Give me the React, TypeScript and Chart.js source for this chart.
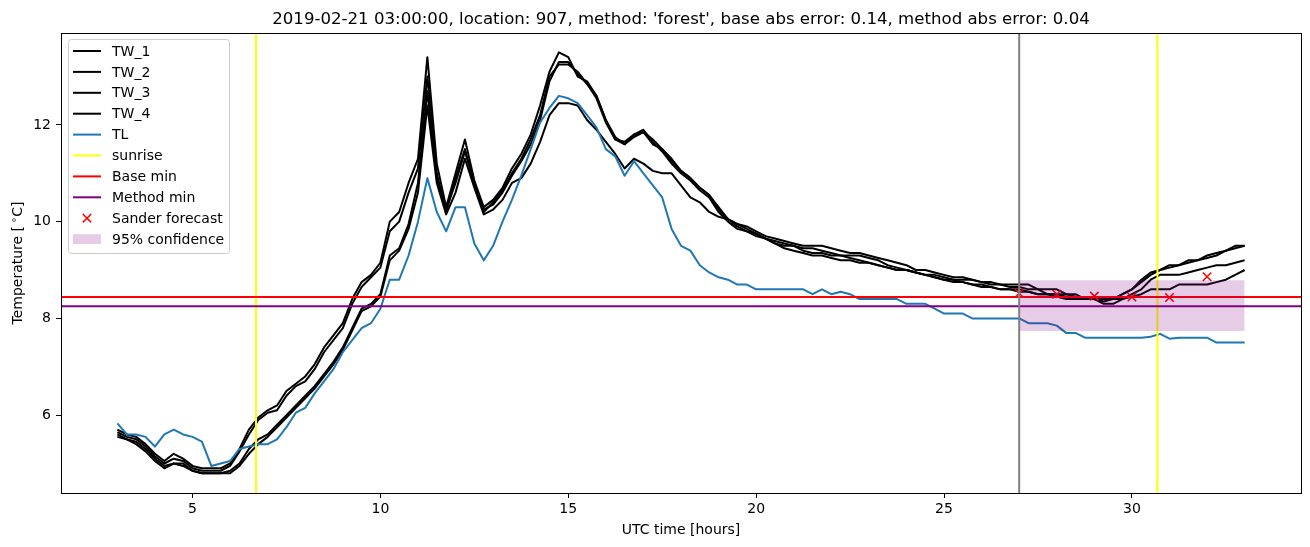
import React, { useEffect, useRef } from "react";
import { Chart, registerables } from "chart.js";

Chart.register(...registerables);

// ---- data (0.25 h sampling, 3:00 .. 33:00) ----
const hours = Array.from({ length: 121 }, (_, i) => 3 + i * 0.25);

const TW1 = [
  5.7, 5.6, 5.55, 5.4, 5.2, 5.05, 5.2, 5.1,
  4.95, 4.9, 4.9, 4.9, 5.0, 5.3, 5.7, 5.95,
  6.1, 6.2, 6.5, 6.65, 6.8, 7.05, 7.4, 7.65,
  7.9, 8.4, 8.75, 8.9, 9.15, 10.0, 10.2, 10.8,
  11.3, 13.4, 11.2, 10.3, 11.0, 11.7, 10.85, 10.3,
  10.45, 10.7, 11.1, 11.4, 11.8, 12.4, 13.1, 13.5,
  13.4, 13.0, 12.9, 12.6, 12.1, 11.7, 11.6, 11.8,
  11.85, 11.6, 11.5, 11.25, 11.05, 10.9, 10.7, 10.55,
  10.3, 10.05, 9.95, 9.9, 9.8, 9.7, 9.65, 9.6,
  9.55, 9.5, 9.5, 9.5, 9.45, 9.4, 9.35, 9.35,
  9.3, 9.25, 9.2, 9.15, 9.1, 9.0, 9.0, 8.95,
  8.9, 8.85, 8.85, 8.8, 8.75, 8.75, 8.7, 8.7,
  8.7, 8.7, 8.6, 8.6, 8.6, 8.5, 8.5, 8.4,
  8.4, 8.4, 8.4, 8.5, 8.6, 8.8, 8.95, 9.0,
  9.1, 9.1, 9.2, 9.2, 9.3, 9.35, 9.4, 9.5,
  9.5,
];

const TW2 = [
  5.65, 5.55, 5.5, 5.35, 5.15, 5.0, 5.1, 5.05,
  4.9, 4.85, 4.85, 4.85, 4.95, 5.25, 5.6, 5.9,
  6.05, 6.1, 6.4, 6.6, 6.7, 6.95, 7.3, 7.55,
  7.8, 8.3, 8.65, 8.85, 9.05, 9.8, 10.0, 10.6,
  11.1, 13.0, 11.0, 10.2, 10.9, 11.5, 10.75, 10.2,
  10.4, 10.65, 11.0, 11.3, 11.7, 12.2, 13.0, 13.25,
  13.25, 13.1, 12.85, 12.55, 12.05, 11.7, 11.65, 11.8,
  11.9, 11.65, 11.45, 11.2, 11.0, 10.85, 10.65, 10.5,
  10.2, 10.0, 9.85, 9.8, 9.75, 9.65, 9.55, 9.5,
  9.5, 9.45, 9.45, 9.4, 9.35, 9.3, 9.3, 9.3,
  9.25, 9.2, 9.1, 9.05, 9.0, 8.95, 8.9, 8.9,
  8.85, 8.8, 8.8, 8.8, 8.75, 8.7, 8.7, 8.65,
  8.65, 8.6, 8.6, 8.5, 8.5, 8.5, 8.45, 8.4,
  8.4, 8.35, 8.4, 8.5, 8.6, 8.75, 8.9, 9.0,
  9.05, 9.1, 9.15, 9.2, 9.25, 9.3, 9.4, 9.45,
  9.5,
];

const TW3 = [
  5.6, 5.5, 5.45, 5.3, 5.1, 4.95, 5.0, 5.0,
  4.85, 4.8, 4.8, 4.8, 4.85, 5.0, 5.3, 5.5,
  5.6, 5.8, 6.0, 6.2, 6.4, 6.6, 6.85, 7.1,
  7.4, 7.8, 8.2, 8.3, 8.5, 9.3, 9.45, 9.95,
  10.8, 12.7, 10.9, 10.25, 10.8, 11.45, 10.8, 10.25,
  10.35, 10.6, 10.95, 11.25, 11.6, 12.1, 12.9, 13.3,
  13.3, 13.05, 12.85, 12.6, 12.1, 11.75, 11.6, 11.75,
  11.85, 11.7, 11.5, 11.3, 11.05, 10.9, 10.7, 10.55,
  10.25, 10.05, 9.95, 9.85, 9.75, 9.65, 9.6, 9.55,
  9.5, 9.4, 9.35, 9.35, 9.3, 9.3, 9.25, 9.2,
  9.15, 9.1, 9.05, 9.0, 9.0, 8.95, 8.9, 8.85,
  8.8, 8.8, 8.75, 8.7, 8.7, 8.65, 8.6, 8.6,
  8.6, 8.55, 8.5, 8.5, 8.5, 8.45, 8.4, 8.4,
  8.4, 8.3, 8.3, 8.4, 8.5, 8.6, 8.8, 8.9,
  8.9, 8.9, 8.95, 9.0, 9.05, 9.1, 9.1, 9.15,
  9.2,
];

const TW4 = [
  5.55, 5.5, 5.4, 5.25, 5.05, 4.9, 5.0, 4.95,
  4.85, 4.8, 4.8, 4.8, 4.8, 4.95, 5.2, 5.4,
  5.55, 5.75, 5.95, 6.15, 6.35, 6.55, 6.8, 7.05,
  7.35, 7.75, 8.15, 8.25, 8.45, 9.2, 9.4, 9.85,
  10.6, 12.4, 10.8, 10.15, 10.6, 11.3, 10.7, 10.15,
  10.25, 10.45, 10.8, 10.9, 11.2, 11.65, 12.2, 12.45,
  12.45, 12.4, 12.1, 11.9, 11.65, 11.4, 11.1, 11.3,
  11.2, 11.05, 11.0, 11.0, 10.75, 10.5, 10.4, 10.2,
  10.1, 10.05, 9.9, 9.8, 9.7, 9.65, 9.55, 9.45,
  9.4, 9.35, 9.3, 9.3, 9.25, 9.2, 9.2, 9.15,
  9.15, 9.1, 9.05, 9.0, 9.0, 8.95, 8.9, 8.85,
  8.8, 8.75, 8.75, 8.7, 8.65, 8.65, 8.6, 8.6,
  8.55, 8.55, 8.5, 8.5, 8.45, 8.4, 8.4, 8.4,
  8.4, 8.4, 8.4, 8.4, 8.45, 8.5, 8.6, 8.6,
  8.6, 8.7, 8.7, 8.7, 8.7, 8.75, 8.8, 8.9,
  9.0,
];

const TL = [
  5.83, 5.6, 5.6, 5.55, 5.35, 5.6, 5.7, 5.6,
  5.55, 5.45, 4.95, 5.0, 5.05, 5.3, 5.35, 5.4,
  5.4, 5.5, 5.75, 6.05, 6.15, 6.45, 6.7, 6.95,
  7.3, 7.55, 7.8, 7.9, 8.2, 8.8, 8.8, 9.3,
  10.0, 10.9, 10.2, 9.8, 10.3, 10.3, 9.55, 9.2,
  9.5, 10.0, 10.45, 10.95, 11.5, 12.05, 12.35, 12.6,
  12.55, 12.45, 12.2, 11.95, 11.5, 11.35, 10.95, 11.25,
  11.0, 10.75, 10.5, 9.85, 9.5, 9.4, 9.1, 8.95,
  8.85, 8.8, 8.7, 8.7, 8.6, 8.6, 8.6, 8.6,
  8.6, 8.6, 8.5, 8.6, 8.5, 8.55, 8.5, 8.4,
  8.4, 8.4, 8.4, 8.4, 8.3, 8.3, 8.3, 8.2,
  8.1, 8.1, 8.1, 8.0, 8.0, 8.0, 8.0, 8.0,
  8.0, 7.9, 7.9, 7.9, 7.85, 7.7, 7.7, 7.6,
  7.6, 7.6, 7.6, 7.6, 7.6, 7.6, 7.62, 7.68,
  7.58, 7.6, 7.6, 7.6, 7.6, 7.5, 7.5, 7.5,
  7.5,
];

const sanderHours = [27, 28, 29, 30, 31, 32];
const sanderValues = [8.52, 8.5, 8.46, 8.44, 8.43, 8.86];

const sunriseTimes = [6.69, 30.68];
const forecastTime = 27;
const baseMin = 8.44;
const methodMin = 8.25;
const confHours = [27, 33];
const confLow = 7.74;
const confHigh = 8.79;

const xRange = [1.5, 34.5];
const yRange = [4.39, 13.9];
const xTicks = [5, 10, 15, 20, 25, 30];
const yTicks = [6, 8, 10, 12];

const titleText =
  "2019-02-21 03:00:00, location: 907, method: 'forest', base abs error: 0.14, method abs error: 0.04";

const FONT = '"DejaVu Sans", sans-serif';
const BLUE = "#1f77b4";
const BAND = "rgba(128,0,128,0.2)";

type LegendItem = { label: string; kind: "line" | "x" | "patch"; color: string };
const legendItems: LegendItem[] = [
  { label: "TW_1", kind: "line", color: "#000000" },
  { label: "TW_2", kind: "line", color: "#000000" },
  { label: "TW_3", kind: "line", color: "#000000" },
  { label: "TW_4", kind: "line", color: "#000000" },
  { label: "TL", kind: "line", color: BLUE },
  { label: "sunrise", kind: "line", color: "#ffff00" },
  { label: "Base min", kind: "line", color: "#ff0000" },
  { label: "Method min", kind: "line", color: "#800080" },
  { label: "Sander forecast", kind: "x", color: "#ff0000" },
  { label: "95% confidence", kind: "patch", color: BAND },
];

const series = (vals: number[]) => vals.map((v, i) => ({ x: hours[i], y: v }));

const overlayPlugin = {
  id: "overlay",
  afterDraw(chart: any) {
    const { ctx, chartArea } = chart;
    const { left, right, top, bottom } = chartArea;
    ctx.save();
    // frame
    ctx.strokeStyle = "#000";
    ctx.lineWidth = 1;
    ctx.strokeRect(Math.round(left) + 0.5, Math.round(top) + 0.5, Math.round(right - left), Math.round(bottom - top));

    // title
    ctx.fillStyle = "#000";
    ctx.font = `16.6px ${FONT}`;
    ctx.textAlign = "center";
    ctx.textBaseline = "alphabetic";
    ctx.fillText(titleText, (left + right) / 2, 24);

    // x label
    ctx.font = `14px ${FONT}`;
    ctx.fillText("UTC time [hours]", (left + right) / 2, 534);

    // y label with superscript degree
    ctx.save();
    ctx.translate(22, (top + bottom) / 2);
    ctx.rotate(-Math.PI / 2);
    const p1 = "Temperature [";
    const p2 = "\u2218";
    const p3 = "C]";
    ctx.font = `14px ${FONT}`;
    const w1 = ctx.measureText(p1).width;
    const w3 = ctx.measureText(p3).width;
    ctx.font = `10px ${FONT}`;
    const w2 = ctx.measureText(p2).width;
    const gap = 3;
    const total = w1 + gap + w2 + w3;
    let cx = -total / 2;
    ctx.textAlign = "left";
    ctx.font = `14px ${FONT}`;
    ctx.fillText(p1, cx, 0);
    cx += w1 + gap;
    ctx.font = `10px ${FONT}`;
    ctx.fillText(p2, cx, -5);
    cx += w2;
    ctx.font = `14px ${FONT}`;
    ctx.fillText(p3, cx, 0);
    ctx.restore();

    // legend
    const bx = 68.5, by = 39.5, bw = 161, bh = 214, r = 3;
    ctx.beginPath();
    ctx.moveTo(bx + r, by);
    ctx.lineTo(bx + bw - r, by);
    ctx.quadraticCurveTo(bx + bw, by, bx + bw, by + r);
    ctx.lineTo(bx + bw, by + bh - r);
    ctx.quadraticCurveTo(bx + bw, by + bh, bx + bw - r, by + bh);
    ctx.lineTo(bx + r, by + bh);
    ctx.quadraticCurveTo(bx, by + bh, bx, by + bh - r);
    ctx.lineTo(bx, by + r);
    ctx.quadraticCurveTo(bx, by, bx + r, by);
    ctx.closePath();
    ctx.fillStyle = "rgba(255,255,255,0.8)";
    ctx.fill();
    ctx.strokeStyle = "#cccccc";
    ctx.lineWidth = 1;
    ctx.stroke();

    ctx.font = `14px ${FONT}`;
    ctx.textAlign = "left";
    ctx.textBaseline = "middle";
    legendItems.forEach((it, i) => {
      const y = 51 + i * 20.9;
      if (it.kind === "line") {
        ctx.strokeStyle = it.color;
        ctx.lineWidth = 2;
        ctx.beginPath();
        ctx.moveTo(73, y);
        ctx.lineTo(101, y);
        ctx.stroke();
      } else if (it.kind === "x") {
        ctx.strokeStyle = it.color;
        ctx.lineWidth = 1.5;
        const s = 4.2;
        ctx.beginPath();
        ctx.moveTo(87 - s, y - s);
        ctx.lineTo(87 + s, y + s);
        ctx.moveTo(87 - s, y + s);
        ctx.lineTo(87 + s, y - s);
        ctx.stroke();
      } else {
        ctx.fillStyle = it.color;
        ctx.fillRect(73, y - 4.9, 28, 9.8);
      }
      ctx.fillStyle = "#000";
      ctx.fillText(it.label, 112, y + 1);
    });
    ctx.restore();
  },
};

export default function App() {
  const ref = useRef<HTMLCanvasElement | null>(null);

  useEffect(() => {
    if (!ref.current) return;
    const lineDs = (label: string, data: any[], color: string) => ({
      label,
      data,
      borderColor: color,
      backgroundColor: color,
      borderWidth: 2,
      pointRadius: 0,
      fill: false,
      borderJoinStyle: "round",
    });
    const datasets: any[] = [
      lineDs("TW_1", series(TW1), "#000000"),
      lineDs("TW_2", series(TW2), "#000000"),
      lineDs("TW_3", series(TW3), "#000000"),
      lineDs("TW_4", series(TW4), "#000000"),
      lineDs("TL", series(TL), BLUE),
      ...sunriseTimes.map((t) =>
        lineDs("sunrise", [{ x: t, y: yRange[0] }, { x: t, y: yRange[1] }], "#ffff00")
      ),
      lineDs("Base min", [{ x: xRange[0], y: baseMin }, { x: xRange[1], y: baseMin }], "#ff0000"),
      lineDs("Method min", [{ x: xRange[0], y: methodMin }, { x: xRange[1], y: methodMin }], "#800080"),
      {
        label: "Sander forecast",
        data: sanderHours.map((h, i) => ({ x: h, y: sanderValues[i] })),
        showLine: false,
        pointStyle: "crossRot",
        pointRadius: 6,
        borderColor: "#ff0000",
        backgroundColor: "#ff0000",
        pointBorderWidth: 1.5,
        borderWidth: 1.5,
      },
      {
        label: "95% confidence",
        data: confHours.map((h) => ({ x: h, y: confHigh })),
        borderWidth: 0,
        borderColor: "rgba(0,0,0,0)",
        pointRadius: 0,
        backgroundColor: BAND,
        fill: { value: confLow },
      },
      lineDs("forecast", [{ x: forecastTime, y: yRange[0] }, { x: forecastTime, y: yRange[1] }], "#808080"),
    ];
    datasets.forEach((d, i) => (d.order = -i));

    const tickFont = { family: FONT, size: 14 };
    const chart = new Chart(ref.current, {
      type: "line",
      data: { datasets },
      options: {
        animation: false,
        responsive: false,
        devicePixelRatio: 1,
        events: [],
        layout: { padding: { top: 33, right: 9, left: 0, bottom: 0 } },
        plugins: {
          legend: { display: false },
          title: { display: false },
          tooltip: { enabled: false },
        },
        scales: {
          x: {
            type: "linear",
            min: xRange[0],
            max: xRange[1],
            afterBuildTicks: (s: any) => {
              s.ticks = xTicks.map((v) => ({ value: v }));
            },
            afterFit: (s: any) => {
              s.height = 54;
            },
            grid: { display: true, drawOnChartArea: false, drawTicks: true, tickLength: 5, color: "#000", lineWidth: 1 },
            border: { display: false },
            ticks: { font: tickFont, color: "#000", padding: 3, maxRotation: 0, autoSkip: false, callback: (v: any) => String(v) },
          },
          y: {
            type: "linear",
            min: yRange[0],
            max: yRange[1],
            afterBuildTicks: (s: any) => {
              s.ticks = yTicks.map((v) => ({ value: v }));
            },
            afterFit: (s: any) => {
              s.width = 61;
            },
            grid: { display: true, drawOnChartArea: false, drawTicks: true, tickLength: 5, color: "#000", lineWidth: 1 },
            border: { display: false },
            ticks: { font: tickFont, color: "#000", padding: 5, autoSkip: false, callback: (v: any) => String(v) },
          },
        },
      } as any,
      plugins: [overlayPlugin],
    });
    return () => chart.destroy();
  }, []);

  return (
    <div style={{ position: "absolute", left: 0, top: 0, width: 1310, height: 547, background: "#fff" }}>
      <canvas ref={ref} width={1310} height={547} style={{ width: 1310, height: 547, display: "block" }} />
    </div>
  );
}
